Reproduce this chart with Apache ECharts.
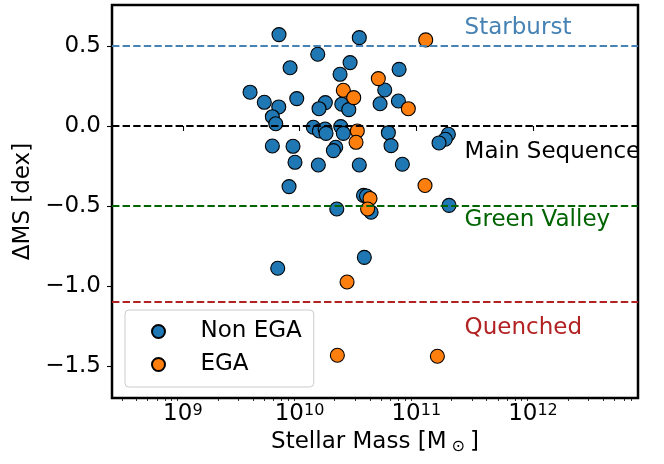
<!DOCTYPE html>
<html><head><meta charset="utf-8">
<script src="https://cdn.jsdelivr.net/npm/echarts@6/dist/echarts.min.js"></script>
<style>html,body{margin:0;padding:0;background:#fff}#c{width:664px;height:464px}</style>
</head><body><div id="c"></div>
<script>
// log10(Stellar Mass / Msun) and Delta MS [dex]
const nonEgaLogMass = [9.824, 10.512, 10.156, 9.919, 10.433, 10.347, 10.853, 9.576, 10.730, 9.698,
  9.822, 9.976, 10.221, 10.167, 10.362, 10.422, 10.690, 10.847, 9.767, 9.796,
  10.118, 10.170, 10.219, 10.227, 10.353, 10.375, 10.761, 11.275, 11.249, 11.195,
  9.767, 9.944, 10.310, 10.290, 10.784, 9.961, 10.161, 10.512, 10.881, 9.910,
  10.548, 10.574, 10.613, 10.319, 11.281, 10.555, 9.813];
const nonEgaDeltaMS = [0.571, 0.552, 0.448, 0.364, 0.396, 0.323, 0.354, 0.211, 0.225, 0.148,
  0.119, 0.171, 0.146, 0.108, 0.136, 0.102, 0.139, 0.156, 0.058, 0.014,
  -0.008, -0.031, -0.019, -0.046, -0.004, -0.046, -0.042, -0.052, -0.083, -0.106,
  -0.125, -0.127, -0.133, -0.154, -0.123, -0.227, -0.244, -0.244, -0.239, -0.379,
  -0.434, -0.438, -0.539, -0.519, -0.496, -0.821, -0.889];
const egaLogMass = [11.081, 10.675, 10.375, 10.464, 10.932, 10.495, 10.484, 11.075, 10.604, 10.583,
  10.407, 10.324, 11.181];
const egaDeltaMS = [0.538, 0.296, 0.223, 0.177, 0.108, -0.031, -0.102, -0.372, -0.453, -0.519,
  -0.975, -1.433, -1.439];

const seriesNames = ['Non EGA', 'EGA'];
const xMajorTicks = [9, 10, 11, 12];
const yTicks = [-1.5, -1.0, -0.5, 0.0, 0.5];
const refLevels = [0.5, 0.0, -0.5, -1.1];
const refLabels = ['Starburst', 'Main Sequence', 'Green Valley', 'Quenched'];
const refLabelX = 11.41;
const refLabelY = [0.612, -0.16, -0.585, -1.262];
const refColors = ['#4682b4', '#000000', '#006400', '#b22222'];

const xMin = 8.393, xMax = 12.9, yMin = -1.70, yMax = 0.756;
const xMinorTicks = [];
for (let d = 8; d <= 12; d++) for (let k = 2; k <= 9; k++) {
  const v = d + Math.log10(k);
  if (v > xMin && v < xMax) xMinorTicks.push(v);
}
const FONT = 'DejaVu Sans';
const FS = 23;
const SFS = 16;
const fmtY = v => (v < 0 ? '\u2212' : '') + Math.abs(v).toFixed(1);

const chart = echarts.init(document.getElementById('c'), null, {renderer: 'canvas'});
chart.setOption({
  animation: false,
  backgroundColor: '#ffffff',
  grid: {left: 112, right: 26, top: 5, bottom: 66, show: true, borderColor: '#000', borderWidth: 2.5,
         containLabel: false, outerBoundsMode: 'none'},
  legend: {
    data: seriesNames, orient: 'vertical', left: 125, top: 310,
    padding: [10, 12, 11, 26], itemGap: 10, itemWidth: 44, itemHeight: 13, icon: 'circle',
    backgroundColor: 'rgba(255,255,255,0.8)', borderColor: '#cccccc', borderWidth: 1, borderRadius: 4,
    textStyle: {fontFamily: FONT, fontSize: FS, color: '#000', padding: [0, 0, 0, 15]}
  },
  xAxis: [{
    type: 'value', min: xMin, max: xMax,
    axisLine: {show: false}, splitLine: {show: false},
    axisTick: {show: true, customValues: xMajorTicks, length: 5, lineStyle: {color: '#000', width: 1.1}},
    axisLabel: {customValues: xMajorTicks, margin: 5, color: '#000',
      formatter: v => '{b|10}{s|' + Math.round(v) + '}',
      rich: {b: {fontFamily: FONT, fontSize: FS, color: '#000', verticalAlign: 'bottom'},
             s: {fontFamily: FONT, fontSize: SFS, color: '#000', verticalAlign: 'top'}}},
    name: 'Stellar Mass [M{s|\u2299}]', nameLocation: 'middle', nameGap: 27,
    nameTextStyle: {fontFamily: FONT, fontSize: FS, color: '#000',
      rich: {s: {fontFamily: FONT, fontSize: SFS, color: '#000', padding: [9, 5, 0, 5]}}}
  }, {
    type: 'value', min: xMin, max: xMax, position: 'bottom', gridIndex: 0,
    axisLine: {show: false}, splitLine: {show: false}, axisLabel: {show: false},
    axisTick: {show: true, customValues: xMinorTicks, length: 3, lineStyle: {color: '#000', width: 0.8}}
  }],
  yAxis: {
    type: 'value', min: yMin, max: yMax,
    axisLine: {show: false}, splitLine: {show: false},
    axisTick: {show: true, customValues: yTicks, length: 5, lineStyle: {color: '#000', width: 1.1}},
    axisLabel: {customValues: yTicks, margin: 11, color: '#000', fontFamily: FONT, fontSize: FS, formatter: fmtY},
    name: '\u0394MS [dex]', nameLocation: 'middle', nameGap: 71, nameRotate: 90,
    nameTextStyle: {fontFamily: FONT, fontSize: FS, color: '#000'}
  },
  series: [{
    type: 'scatter', name: 'refLines', data: [], z: 1, silent: true,
    markLine: {
      silent: true, symbol: ['none', 'none'], animation: false,
      label: {show: false},
      data: refLevels.map((y, i) => ({yAxis: y, lineStyle: {color: refColors[i], type: [7.4, 3.2], width: 2, opacity: 1}}))
    }
  }, {
    type: 'scatter', name: seriesNames[0], z: 3,
    data: nonEgaLogMass.map((x, i) => [x, nonEgaDeltaMS[i]]),
    symbol: 'circle', symbolSize: 14,
    itemStyle: {color: '#1f77b4', borderColor: '#000', borderWidth: 1.1, opacity: 1}
  }, {
    type: 'scatter', name: seriesNames[1], z: 4,
    data: egaLogMass.map((x, i) => [x, egaDeltaMS[i]]),
    symbol: 'circle', symbolSize: 14,
    itemStyle: {color: '#ff7f0e', borderColor: '#000', borderWidth: 1.1, opacity: 1}
  }, {
    type: 'scatter', name: 'labels', z: 5, silent: true, symbolSize: 1,
    itemStyle: {color: 'rgba(0,0,0,0)', opacity: 1},
    data: refLabels.map((t, i) => ({name: t, value: [refLabelX, refLabelY[i]],
      label: {color: refColors[i]}})),
    label: {show: true, position: 'right', distance: 0, formatter: p => p.name,
      fontFamily: FONT, fontSize: FS, verticalAlign: 'middle'}
  }]
});
</script></body></html>
